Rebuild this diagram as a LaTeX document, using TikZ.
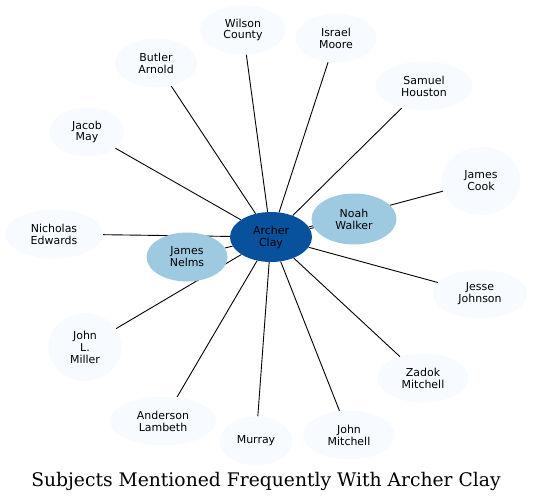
\documentclass[tikz,border=0pt]{standalone}
\usepackage{fontspec}
\setmainfont{DejaVu Sans}
\newfontfamily\titlefont{DejaVu Serif}
\usetikzlibrary{shapes.geometric,backgrounds}
\definecolor{pale}{HTML}{F7FBFF}
\definecolor{mid}{HTML}{9ECAE1}
\definecolor{dark}{HTML}{08519C}
\tikzset{
  person/.style={ellipse, fill=pale, inner sep=0pt, align=center,
    font=\fontsize{11}{12}\selectfont, minimum width=#1},
  person/.default=82bp,
  edge/.style={draw=black, line width=0.9bp}
}
\begin{document}
\begin{tikzpicture}[x=1bp,y=-1bp]
\useasboundingbox (0,0) rectangle (533,501);
\begin{scope}[every node/.append style={minimum height=49bp}]
\node[person=86bp] (wilson) at (243,30) {Wilson\\County};
\node[person=81bp] (israel) at (336,38) {Israel\\Moore};
\node[person=82bp] (butler) at (156,63) {Butler\\Arnold};
\node[person=97bp] (samuel) at (424,86) {Samuel\\Houston};
\node[person=75bp] (jacob) at (87,132) {Jacob\\May};
\node[person=79bp, minimum height=68bp] (cook) at (481,181) {James\\Cook};
\node[person=98bp] (nicholas) at (54,234) {Nicholas\\Edwards};
\node[person=94bp] (jesse) at (480,294) {Jesse\\Johnson};
\node[person=73bp, minimum height=68bp] (miller) at (85,347) {John\\L.\\Miller};
\node[person=91bp] (zadok) at (423,378) {Zadok\\Mitchell};
\node[person=106bp] (anderson) at (163,421) {Anderson\\Lambeth};
\node[person=73bp] (murray) at (256,441) {Murray};
\node[person=91bp] (jmitchell) at (349,435) {John\\Mitchell};
\node[person=85bp, fill=mid, minimum height=51bp] (noah) at (354,219) {Noah\\Walker};
\node[person=81bp, fill=mid] (nelms) at (187,257) {James\\Nelms};
\node[person=82bp, fill=dark, minimum height=50bp] (archer) at (271,237) {Archer\\Clay};
\end{scope}
\begin{scope}[on background layer]
\foreach \t in {wilson,israel,butler,samuel,jacob,cook,nicholas,jesse,miller,zadok,anderson,murray,jmitchell,noah,nelms}
  \draw[edge] (archer) -- (\t);
\end{scope}
\node[font=\titlefont\fontsize{18.8}{22}\selectfont] (title) at (266,481) {Subjects Mentioned Frequently With Archer Clay};
\end{tikzpicture}
\end{document}
